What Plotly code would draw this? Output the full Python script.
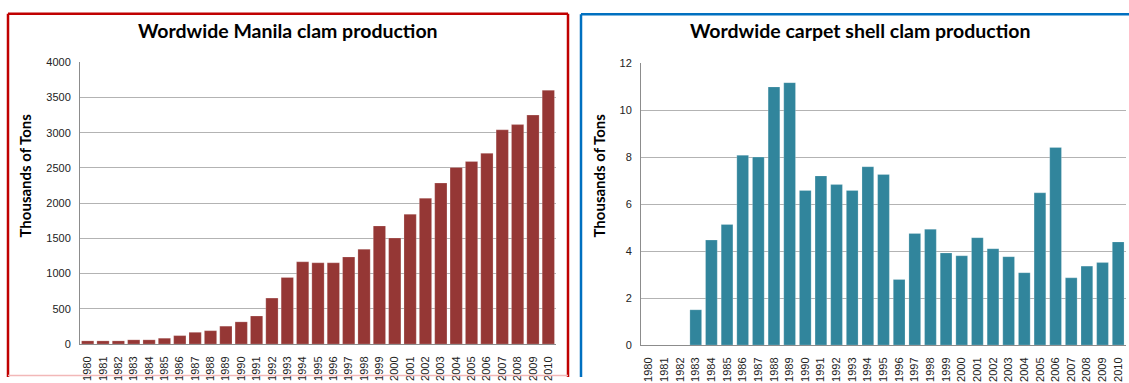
import plotly.graph_objects as go

years = [str(y) for y in range(1980, 2011)]

manila = [45, 45, 45, 60, 60, 83, 120, 167, 190, 254, 315, 398, 653, 944,
          1167, 1153, 1153, 1236, 1347, 1676, 1505, 1843, 2070, 2285, 2506,
          2590, 2706, 3040, 3114, 3249, 3602]

carpet = [0, 0, 0, 1.5, 4.47, 5.13, 8.08, 8.0, 10.99, 11.17, 6.58, 7.2,
          6.83, 6.58, 7.59, 7.26, 2.79, 4.75, 4.93, 3.92, 3.80, 4.57, 4.10,
          3.76, 3.08, 6.48, 8.41, 2.86, 3.36, 3.51, 4.39]

W, H = 1129, 383
def px(x):
    return x / W
def py(y):
    return 1 - y / H

fig = go.Figure()
fig.add_trace(go.Bar(x=years, y=manila, marker=dict(color="#953735", line=dict(color="rgba(255,255,255,0.35)", width=0.6)),
                     xaxis="x", yaxis="y", showlegend=False, width=0.8))
fig.add_trace(go.Bar(x=years, y=carpet, marker=dict(color="#31859C", line=dict(color="rgba(255,255,255,0.35)", width=0.6)),
                     xaxis="x2", yaxis="y2", showlegend=False, width=0.75))

tickfont = dict(family="Liberation Sans", size=11, color="#222222")
xtickfont = dict(family="Liberation Sans", size=11, color="#222222")

xcommon = dict(type="category", tickangle=-90, tickfont=xtickfont, showgrid=False,
               showline=True, linecolor="#8C8C8C", linewidth=1,
               ticks="outside", ticklen=7, tickcolor="rgba(0,0,0,0)")
ycommon = dict(tickfont=tickfont, showgrid=True, gridcolor="#B3B3B3", gridwidth=1,
               showline=True, linecolor="#8C8C8C", linewidth=1, zeroline=False,
               ticks="outside", ticklen=6, tickcolor="rgba(0,0,0,0)")

fig.update_layout(
    width=W, height=H,
    margin=dict(l=0, r=0, t=0, b=0),
    paper_bgcolor="white", plot_bgcolor="white",
    xaxis=dict(domain=[px(80), px(556)], anchor="y", **xcommon),
    yaxis=dict(domain=[py(349), py(58)], range=[0, 4000], dtick=500, anchor="x", **ycommon),
    xaxis2=dict(domain=[px(641), px(1126)], anchor="y2", **xcommon),
    yaxis2=dict(domain=[py(350), py(59)], range=[0, 12], dtick=2, anchor="x2", **ycommon),
)

titlefont = dict(family="Lato", size=19.5, color="black")
axtitlefont = dict(family="Lato", size=15, color="black")

fig.add_annotation(text="<b>Wordwide Manila clam production</b>", x=px(288), y=py(25),
                   xref="paper", yref="paper", showarrow=False, font=titlefont,
                   xanchor="center", yanchor="middle")
fig.add_annotation(text="<b>Wordwide carpet shell clam production</b>", x=px(860), y=py(25),
                   xref="paper", yref="paper", showarrow=False, font=titlefont,
                   xanchor="center", yanchor="middle")
fig.add_annotation(text="<b>Thousands of Tons</b>", x=px(25), y=py(175),
                   xref="paper", yref="paper", showarrow=False, font=axtitlefont,
                   textangle=-90, xanchor="center", yanchor="middle")
fig.add_annotation(text="<b>Thousands of Tons</b>", x=px(599), y=py(175),
                   xref="paper", yref="paper", showarrow=False, font=axtitlefont,
                   textangle=-90, xanchor="center", yanchor="middle")

# panel borders
red = "#C00000"
blue = "#0070C0"
fig.add_shape(type="line", xref="paper", yref="paper", x0=px(8), x1=px(8), y0=py(8), y1=py(383), line=dict(color=red, width=2.5))
fig.add_shape(type="line", xref="paper", yref="paper", x0=px(8), x1=px(568), y0=py(8), y1=py(8), line=dict(color=red, width=2.5))
fig.add_shape(type="line", xref="paper", yref="paper", x0=px(568), x1=px(568), y0=py(8), y1=py(383), line=dict(color=red, width=2.5))
fig.add_shape(type="line", xref="paper", yref="paper", x0=px(8), x1=px(568), y0=py(381.5), y1=py(381.5), line=dict(color="#F2B8B8", width=1.5))
fig.add_shape(type="line", xref="paper", yref="paper", x0=px(581), x1=px(581), y0=py(8.5), y1=py(383), line=dict(color=blue, width=2.5))
fig.add_shape(type="line", xref="paper", yref="paper", x0=px(581), x1=px(1135), y0=py(8.5), y1=py(8.5), line=dict(color=blue, width=2.5))

fig.write_html("out.html")
